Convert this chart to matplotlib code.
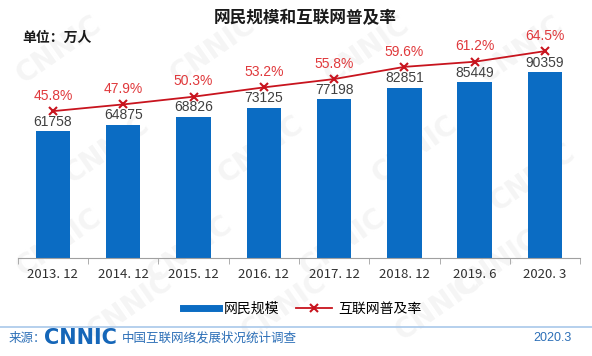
import matplotlib
matplotlib.use("Agg")
import matplotlib.pyplot as plt
from matplotlib.lines import Line2D
import numpy as np

plt.rcParams['font.family'] = ['Noto Sans CJK SC', 'DejaVu Sans']

periods = ["2013. 12", "2014. 12", "2015. 12", "2016. 12", "2017. 12", "2018. 12", "2019. 6", "2020. 3"]
netizens = [61758, 64875, 68826, 73125, 77198, 82851, 85449, 90359]
penetration = [45.8, 47.9, 50.3, 53.2, 55.8, 59.6, 61.2, 64.5]

BLUE = "#0B6CC3"
RED = "#C8141E"
RED_TXT = "#E0393C"

fig = plt.figure(figsize=(5.92, 3.56), dpi=100)

# faint watermark in a background axes
bg = fig.add_axes([0, 0, 1, 1], zorder=-5)
bg.axis("off")
for wx, wy in [(0.10, 0.86), (0.36, 0.86), (0.62, 0.86), (0.88, 0.86),
               (0.18, 0.58), (0.44, 0.58), (0.70, 0.58), (0.90, 0.50),
               (0.10, 0.32), (0.32, 0.30), (0.58, 0.32), (0.84, 0.26),
               (0.22, 0.14), (0.48, 0.14), (0.74, 0.14)]:
    bg.text(wx, wy, "CNNIC", fontsize=20, fontweight="bold", color="#F5F5F5",
            rotation=35, ha="center", va="center", family="DejaVu Sans",
            transform=bg.transAxes)

ax = fig.add_axes([0.030, 0.275, 0.950, 0.612])
ax2 = ax.twinx()

x = np.arange(len(periods))
ax.bar(x, netizens, width=0.49, color=BLUE, zorder=2)
for xi, v in zip(x, netizens):
    ax.text(xi, v + 1200, str(v), ha="center", va="bottom", fontsize=10,
            color="#404040", family="Liberation Sans")

ax2.plot(x, penetration, color=RED, lw=1.3, marker="x", ms=6, mew=1.5, zorder=3)
for xi, p in zip(x, penetration):
    ax2.text(xi, p + 2.6, f"{p}%", ha="center", va="bottom", fontsize=10,
             color=RED_TXT, family="Liberation Sans")

ax.set_xlim(-0.5, len(periods) - 0.5)
ax.set_ylim(0, 106000)
ax2.set_ylim(0, 67.9)

for a in (ax, ax2):
    a.set_facecolor("none")
    for s in ["top", "right", "left"]:
        a.spines[s].set_visible(False)
    a.set_yticks([])
ax.spines["bottom"].set_color("#A0A0A0")
ax2.spines["bottom"].set_visible(False)

ax.set_xticks(x)
ax.set_xticklabels(periods, fontsize=9.5, color="#303030")
ax.tick_params(axis="x", length=0, pad=7)
ax.set_xticks(np.arange(-0.5, len(periods) + 0.5, 1), minor=True)
ax.tick_params(axis="x", which="minor", length=4, color="#A0A0A0")

fig.text(0.515, 0.948, "网民规模和互联网普及率", ha="center", va="center",
         fontsize=12, fontweight="bold", color="#1A1A1A")
fig.text(0.037, 0.893, "单位：万人", ha="left", va="center",
         fontsize=10, fontweight="bold", color="#1A1A1A")

handles = [Line2D([0], [0], color=BLUE, lw=5),
           Line2D([0], [0], color=RED, lw=1.3, marker="x", ms=6, mew=1.5)]
fig.legend(handles, ["网民规模", "互联网普及率"], loc="center",
           bbox_to_anchor=(0.51, 0.132), ncol=2, frameon=False, fontsize=10,
           handlelength=2.6, columnspacing=1.2, handletextpad=0.4)

fig.add_artist(Line2D([0.0, 1.0], [0.082, 0.082], color="#A9C8EA", lw=1.2))
fig.text(0.014, 0.050, "来源：", ha="left", va="center", fontsize=9, color="#2C6FB7")
fig.text(0.074, 0.050, "CNNIC", ha="left", va="center", fontsize=15,
         fontweight="bold", color="#1566B8", family="DejaVu Sans")
fig.text(0.206, 0.050, "中国互联网络发展状况统计调查", ha="left", va="center",
         fontsize=9, color="#2C6FB7")
fig.text(0.965, 0.050, "2020.3", ha="right", va="center", fontsize=9,
         color="#2C6FB7", family="Liberation Sans")

fig.savefig("out.png", dpi=100)
